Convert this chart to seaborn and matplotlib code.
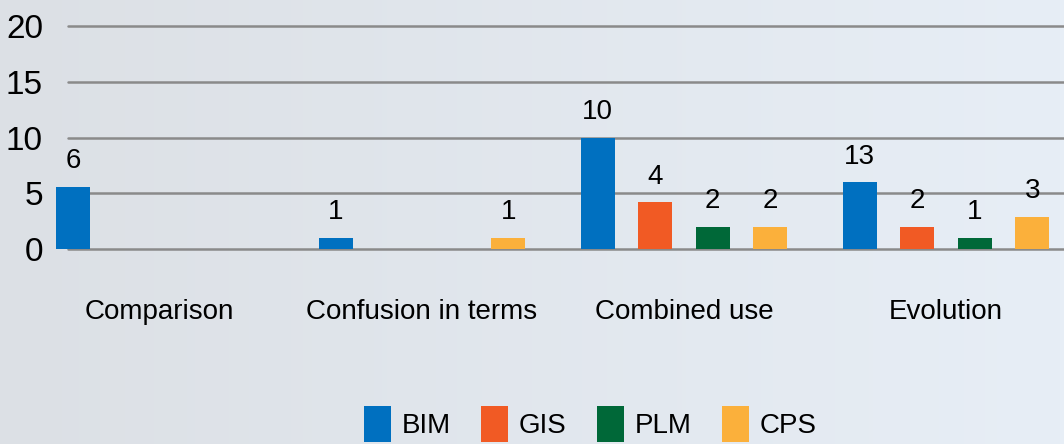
import numpy as np
import pandas as pd
import seaborn as sns
import matplotlib.pyplot as plt
from matplotlib.patches import Patch

# ---- data ----
categories = ["Comparison", "Confusion in terms", "Combined use", "Evolution"]
series = ["BIM", "GIS", "PLM", "CPS"]
bim_values = [5.6, 1, 10, 6]
gis_values = [0, 0, 4.2, 2]
plm_values = [0, 0, 2, 1]
cps_values = [0, 1, 2, 2.9]
bim_labels = ["6", "1", "10", "13"]
gis_labels = ["", "", "4", "2"]
plm_labels = ["", "", "2", "1"]
cps_labels = ["", "1", "2", "3"]
y_ticks = [0, 5, 10, 15, 20]
colors = ["#0070C0", "#F15A24", "#006838", "#FBB03B"]

values_by_series = [bim_values, gis_values, plm_values, cps_values]
labels_by_series = [bim_labels, gis_labels, plm_labels, cps_labels]

rows = []
for s, vals in zip(series, values_by_series):
    for c, v in zip(categories, vals):
        rows.append({"category": c, "series": s, "value": v})
df = pd.DataFrame(rows)

sns.set_theme(style="white")
plt.rcParams['font.family'] = ['Liberation Sans Narrow', 'Liberation Sans', 'DejaVu Sans']

W, H = 1064, 444
fig = plt.figure(figsize=(W / 100, H / 100), dpi=100)

# background gradient
bg = fig.add_axes([0, 0, 1, 1], zorder=0)
xs = np.linspace(0, 1, 256)
left = np.array([220, 224, 229]) / 255
right = np.array([231, 238, 246]) / 255
grad = left[None, :] * (1 - xs[:, None]) + right[None, :] * xs[:, None]
bg.imshow(grad[None, :, :], aspect="auto", extent=[0, 1, 0, 1])
bg.axis("off")

ax = fig.add_axes([68 / W, 1 - 249 / H, (W - 68) / W, (249 - 26) / H], zorder=1)
ax.patch.set_alpha(0)

sns.barplot(data=df, x="category", y="value", hue="series",
            order=categories, hue_order=series, palette=colors,
            width=0.878, gap=0.41, ax=ax, legend=False,
            saturation=1, errorbar=None, linewidth=0)

for cont, labs in zip(ax.containers, labels_by_series):
    for p in cont.patches:
        p.set_clip_on(False)
    for t in ax.bar_label(cont, labels=labs, padding=9, fontsize=20, color="black"):
        t.set_clip_on(False)

ax.set_ylim(0, 20)
ax.set_xlim(-0.35, 3.45)
ax.set_yticks(y_ticks)
ax.set_xlabel("")
ax.set_ylabel("")
ax.yaxis.grid(True, color="#8a8a8a", lw=1.8)
ax.xaxis.grid(False)
ax.set_axisbelow(True)
for gl in ax.get_ygridlines():
    gl.set_clip_on(False)
for sp in ax.spines.values():
    sp.set_visible(False)
ax.tick_params(axis="x", length=0, pad=36, labelsize=20, colors="black")
ax.tick_params(axis="y", length=0, pad=18, labelsize=24, colors="black")

handles = [Patch(facecolor=c, edgecolor="none") for c in colors]
fig.legend(handles, series, loc="lower center", bbox_to_anchor=(0.555, 0.004),
           ncol=4, frameon=False, handlelength=0.95, handleheight=1.65,
           handletextpad=0.4, columnspacing=1.1, fontsize=20,
           borderaxespad=0, borderpad=0, labelcolor="black")

fig.savefig("out.png", dpi=100)
